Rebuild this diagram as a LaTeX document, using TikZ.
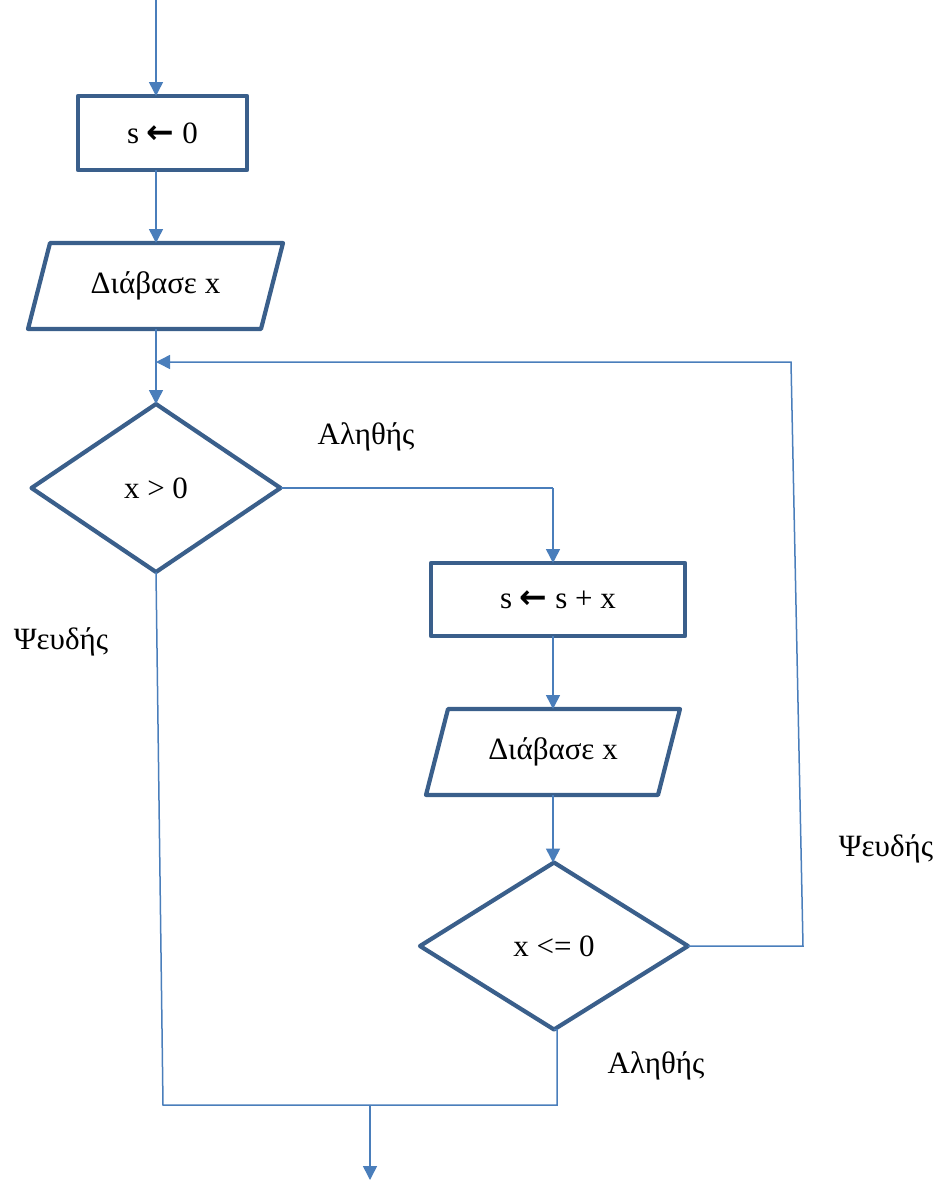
\documentclass[tikz,border=0pt]{standalone}
\usepackage{fontspec}
\setmainfont{Liberation Serif}
\newfontfamily\arrowfont{DejaVu Sans}
\usetikzlibrary{shapes.geometric,arrows.meta}
\definecolor{boxblue}{HTML}{3A5F8B}
\definecolor{lineblue}{HTML}{4A7EBB}
\newcommand{\larr}{{\arrowfont\bfseries\fontsize{33}{32}\selectfont ←}}
\tikzset{
  every node/.style={font=\fontsize{31}{36}\selectfont, inner sep=0pt, outer sep=0pt},
  procbox/.style={draw=boxblue, line width=4.2pt, line join=round, rectangle},
  iobox/.style={rectangle},
  iodraw/.style={draw=boxblue, line width=4.2pt, line join=round},
  decbox/.style={draw=boxblue, line width=4.2pt, line join=round, diamond, aspect=1.5},
  conn/.style={draw=lineblue, line width=1.5pt},
  arr/.style={conn, -{Triangle[length=14pt,width=14pt]}},
  lbl/.style={text=black}
}
\begin{document}
\begin{tikzpicture}[x=1pt,y=-1pt]
\useasboundingbox (0,0) rectangle (940,1181);
% nodes
\node[procbox, minimum width=169, minimum height=74] (box1) at (162.5,133) {s \larr\ 0};
\node[iobox, minimum width=255, minimum height=86] (par1) at (155.5,286) {Διάβασε x};
\node[decbox, minimum width=249, minimum height=168] (dia1) at (156,488) {x > 0};
\node[procbox, minimum width=254, minimum height=73] (box2) at (558,599.5) {s \larr\ s + x};
\node[iobox, minimum width=254, minimum height=86] (par2) at (553,752) {Διάβασε x};
\node[decbox, minimum width=268, minimum height=167] (dia2) at (554,946) {x <= 0};
% parallelogram outlines
\draw[iodraw] (par1.south west) -- ([xshift=22pt]par1.north west) -- (par1.north east) -- ([xshift=-22pt]par1.south east) -- cycle;
\draw[iodraw] (par2.south west) -- ([xshift=22pt]par2.north west) -- (par2.north east) -- ([xshift=-22pt]par2.south east) -- cycle;
% labels
\node[lbl] (t1) at (366,437) {Αληθής};
\node[lbl] (f1) at (61,642) {Ψευδής};
\node[lbl] (t2) at (656,1066) {Αληθής};
\node[lbl] (f2) at (886,849) {Ψευδής};
% coordinates
\coordinate (start) at (156,0);
\coordinate (tb) at (553,488);
\coordinate (loopTR) at (791,362);
\coordinate (loopBR) at (803,946);
\coordinate (jl) at (163,1105);
\coordinate (jr) at (557,1105);
\coordinate (jm) at (370,1105);
\coordinate (exit) at (370,1180);
% connectors
\draw[arr] (start) -- (start |- box1.north);
\draw[arr] (box1.south -| start) -- (par1.north -| start);
\draw[arr] (par1.south -| start) -- (dia1.north);
\draw[conn] (dia1.east) -- (tb);
\draw[arr] (tb) -- (tb |- box2.north);
\draw[arr] (box2.south -| tb) -- (par2.north -| tb);
\draw[arr] (par2.south -| tb) -- (tb |- dia2.north);
\draw[arr] (dia2.east) -- (loopBR) -- (loopTR) -- (start |- loopTR);
\draw[conn] (dia1.south) -- (jl) -- (jr) -- (jr |- dia2.south) -- (dia2.south);
\draw[arr] (jm) -- (exit);
\end{tikzpicture}
\end{document}
